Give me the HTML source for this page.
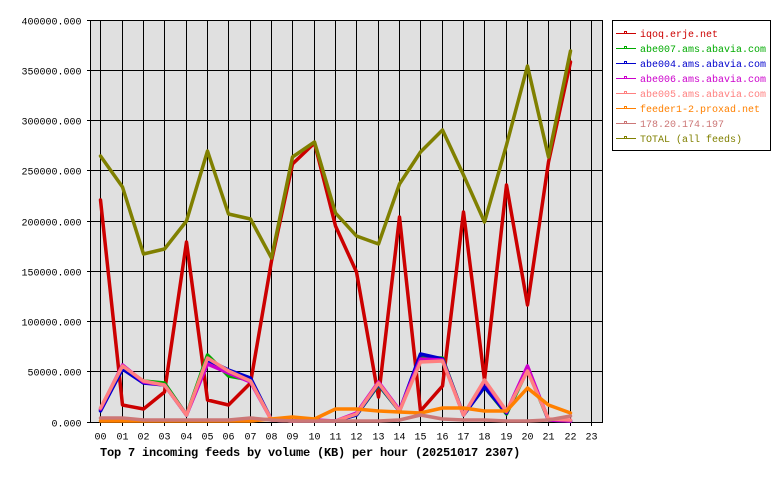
<!DOCTYPE html>
<html><head><meta charset="utf-8"><style>
html,body{margin:0;padding:0;background:#fff;}
svg{display:block;}
text{font-family:"Liberation Mono","DejaVu Sans Mono",monospace;font-size:10px;}
</style></head><body>
<svg width="780" height="480" viewBox="0 0 780 480" xmlns="http://www.w3.org/2000/svg">
<rect x="0" y="0" width="780" height="480" fill="#fff"/>
<rect x="90" y="20" width="512" height="402" fill="#e0e0e0"/>
<g stroke="#000" stroke-width="1" shape-rendering="crispEdges" fill="none">
<path d="M87 20.5H602.5M87 70.5H602.5M87 120.5H602.5M87 170.5H602.5M87 221.5H602.5M87 271.5H602.5M87 321.5H602.5M87 371.5H602.5M87 422.5H602.5"/>
<path d="M90.5 20V423M602.5 20V423"/>
<path d="M100.5 20V426M122.5 20V426M143.5 20V426M164.5 20V426M186.5 20V426M207.5 20V426M228.5 20V426M250.5 20V426M271.5 20V426M292.5 20V426M314.5 20V426M335.5 20V426M356.5 20V426M378.5 20V426M399.5 20V426M420.5 20V426M442.5 20V426M463.5 20V426M484.5 20V426M506.5 20V426M527.5 20V426M548.5 20V426M570.5 20V426M591.5 20V426"/>
</g>
<g text-anchor="end" fill="#000">
<text x="81.5" y="24.5">400000.000</text>
<text x="81.5" y="74.5">350000.000</text>
<text x="81.5" y="124.5">300000.000</text>
<text x="81.5" y="174.5">250000.000</text>
<text x="81.5" y="225.5">200000.000</text>
<text x="81.5" y="275.5">150000.000</text>
<text x="81.5" y="325.5">100000.000</text>
<text x="81.5" y="375.5">50000.000</text>
<text x="81.5" y="426.5">0.000</text>
</g>
<g text-anchor="middle" fill="#000">
<text x="100.5" y="439.5">00</text><text x="122.5" y="439.5">01</text><text x="143.5" y="439.5">02</text><text x="164.5" y="439.5">03</text><text x="186.5" y="439.5">04</text><text x="207.5" y="439.5">05</text><text x="228.5" y="439.5">06</text><text x="250.5" y="439.5">07</text><text x="271.5" y="439.5">08</text><text x="292.5" y="439.5">09</text><text x="314.5" y="439.5">10</text><text x="335.5" y="439.5">11</text><text x="356.5" y="439.5">12</text><text x="378.5" y="439.5">13</text><text x="399.5" y="439.5">14</text><text x="420.5" y="439.5">15</text><text x="442.5" y="439.5">16</text><text x="463.5" y="439.5">17</text><text x="484.5" y="439.5">18</text><text x="506.5" y="439.5">19</text><text x="527.5" y="439.5">20</text><text x="548.5" y="439.5">21</text><text x="570.5" y="439.5">22</text><text x="591.5" y="439.5">23</text>
</g>
<text x="100" y="456" style="font-size:12px;font-weight:bold;letter-spacing:-0.2px" fill="#000">Top 7 incoming feeds by volume (KB) per hour (20251017 2307)</text>

<g fill="none" stroke-width="3.5" stroke-linejoin="round" stroke-linecap="round">
<polyline stroke="#cc0000" points="100.5,200 122.5,405 143.5,409 164.5,392 186.5,242 207.5,400 228.5,405 250.5,383 271.5,261 292.5,164 314.5,143 335.5,226 356.5,272 378.5,397 399.5,217 420.5,411 442.5,386 463.5,212 484.5,380 506.5,185 527.5,305 548.5,162 570.5,62"/>
<polyline stroke="#00aa00" points="100.5,410 122.5,368 143.5,381 164.5,383 186.5,415 207.5,355 228.5,376 250.5,380 271.5,420 292.5,421 314.5,421 335.5,421 356.5,415 378.5,385 399.5,411 420.5,358 442.5,358 463.5,415 484.5,387 506.5,414 527.5,370 548.5,420 570.5,421"/>
<polyline stroke="#0000cc" points="100.5,411 122.5,369 143.5,383 164.5,385 186.5,415 207.5,360 228.5,370 250.5,378 271.5,420 292.5,421 314.5,421 335.5,421 356.5,415 378.5,384 399.5,411 420.5,354 442.5,359 463.5,415 484.5,387 506.5,413 527.5,367 548.5,420 570.5,421"/>
<polyline stroke="#cc00cc" points="100.5,409 122.5,365 143.5,382 164.5,385 186.5,415 207.5,364 228.5,373 250.5,382 271.5,420 292.5,421 314.5,420 335.5,421 356.5,413 378.5,382 399.5,410 420.5,359 442.5,360 463.5,415 484.5,381 506.5,412 527.5,366 548.5,420 570.5,421"/>
<polyline stroke="#ff8080" points="100.5,408 122.5,366 143.5,381 164.5,385 186.5,415 207.5,358 228.5,371 250.5,381 271.5,420 292.5,421 314.5,421 335.5,421 356.5,414 378.5,383 399.5,411 420.5,362 442.5,361 463.5,415 484.5,380 506.5,411 527.5,371 548.5,419 570.5,420"/>
<polyline stroke="#ff8000" points="100.5,421 122.5,421 143.5,421 164.5,421 186.5,421 207.5,421 228.5,421 250.5,421 271.5,419 292.5,417 314.5,419 335.5,409 356.5,409 378.5,411 399.5,412 420.5,413 442.5,408 463.5,408 484.5,411 506.5,411 527.5,388 548.5,405 570.5,413"/>
<polyline stroke="#cc7777" points="100.5,418 122.5,418 143.5,420 164.5,420 186.5,420 207.5,420 228.5,420 250.5,418 271.5,420 292.5,421 314.5,421 335.5,421 356.5,421 378.5,421 399.5,420 420.5,415 442.5,419 463.5,420 484.5,420 506.5,421 527.5,421 548.5,420 570.5,416"/>
<polyline stroke="#808000" points="100.5,156 122.5,187 143.5,254 164.5,249 186.5,221 207.5,151 228.5,214 250.5,219 271.5,258 292.5,157 314.5,142 335.5,213 356.5,236 378.5,244 399.5,184 420.5,152 442.5,130 463.5,175 484.5,222 506.5,145 527.5,66 548.5,157 570.5,51"/>
</g>

<rect x="612.5" y="20.5" width="158" height="130" fill="#fff" stroke="#000" stroke-width="1" shape-rendering="crispEdges"/>
<g stroke-width="1" fill="none" shape-rendering="crispEdges">
<path stroke="#cc0000" d="M616 33.5H636M624.5 33.5V31.5H626.5V33.5"/>
<path stroke="#00aa00" d="M616 48.5H636M624.5 48.5V46.5H626.5V48.5"/>
<path stroke="#0000cc" d="M616 63.5H636M624.5 63.5V61.5H626.5V63.5"/>
<path stroke="#cc00cc" d="M616 78.5H636M624.5 78.5V76.5H626.5V78.5"/>
<path stroke="#ff8080" d="M616 93.5H636M624.5 93.5V91.5H626.5V93.5"/>
<path stroke="#ff8000" d="M616 108.5H636M624.5 108.5V106.5H626.5V108.5"/>
<path stroke="#cc7777" d="M616 123.5H636M624.5 123.5V121.5H626.5V123.5"/>
<path stroke="#808000" d="M616 138.5H636M624.5 138.5V136.5H626.5V138.5"/>
</g>
<text x="640" y="37" fill="#cc0000">iqoq.erje.net</text>
<text x="640" y="52" fill="#00aa00">abe007.ams.abavia.com</text>
<text x="640" y="67" fill="#0000cc">abe004.ams.abavia.com</text>
<text x="640" y="82" fill="#cc00cc">abe006.ams.abavia.com</text>
<text x="640" y="97" fill="#ff8080">abe005.ams.abavia.com</text>
<text x="640" y="112" fill="#ff8000">feeder1-2.proxad.net</text>
<text x="640" y="127" fill="#cc7777">178.20.174.197</text>
<text x="640" y="142" fill="#808000">TOTAL (all feeds)</text>
</svg>
</body></html>
